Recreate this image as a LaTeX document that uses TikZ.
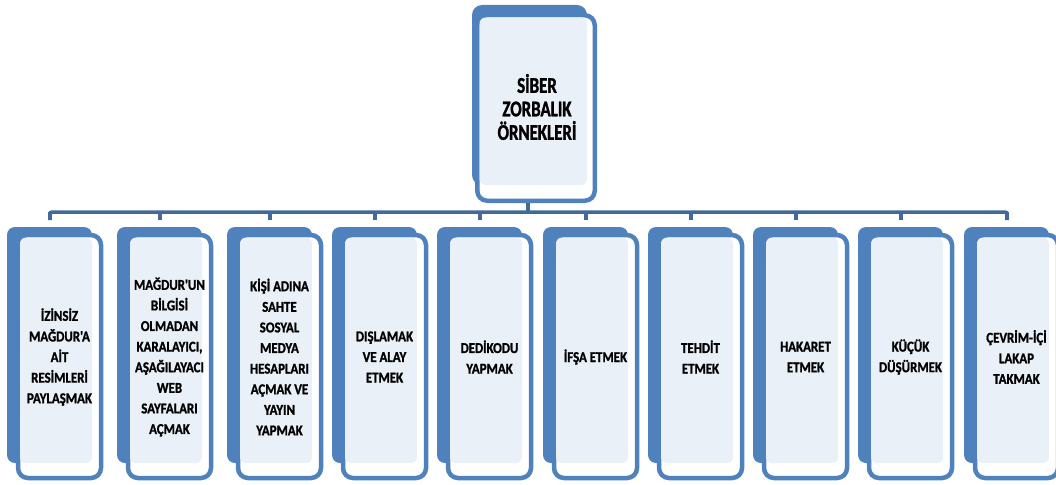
\documentclass[tikz,border=0pt]{standalone}
\usepackage{fontspec}
\setmainfont{Carlito}
\newfontfamily\kidfont[FakeStretch=0.86, FakeBold=1.2]{Carlito Bold}
\newfontfamily\headfont[FakeStretch=0.75, FakeBold=1.4]{Carlito Bold}
\definecolor{accent}{HTML}{4F81BD}
\definecolor{lightbg}{HTML}{EAF0F8}
\definecolor{connc}{HTML}{41699B}
\tikzset{
  backbox/.style={fill=accent, rounded corners=8pt},
  frontbox/.style={draw=accent, fill=white, line width=4.5pt, rounded corners=10pt},
  lightbox/.style={fill=lightbg, rounded corners=6pt},
  conn/.style={draw=connc, line width=3.5pt},
  kidtext/.style={align=center, inner sep=0pt, text=black, font=\kidfont\fontsize{15}{20.6}\selectfont},
  headtext/.style={align=center, inner sep=0pt, text=black, font=\headfont\fontsize{22.5}{23.5}\selectfont},
}
\newcommand\kidbox[3]{%
  \fill[backbox] (#1-43,227) rectangle (#1+42,463);
  \draw[frontbox] (#1-32,235) rectangle (#1+51,478);
  \fill[lightbox] (#1-30,237.5) rectangle (#1+42,463);
  \node[kidtext] (#2) at (#1+9.5,357) {#3};
  \coordinate (t#2) at (#1,212);
  \draw[conn] (t#2) -- ++(0,8);
}
\begin{document}
\begin{tikzpicture}[x=1pt,y=-1pt]
\useasboundingbox (0,0) rectangle (1056,484);
% top box
\fill[backbox, rounded corners=10pt] (472,5) rectangle (587,185);
\node[frontbox, minimum width=117.5pt, minimum height=185.5pt, inner sep=0pt] (topbox) at (536,108) {};
\fill[lightbox] (479.5,17.5) rectangle (587,185);
\node[headtext] (toptext) at (537,107) {SİBER\\ZORBALIK\\ÖRNEKLERİ};
% bus
\coordinate (hub) at (528,212);
\coordinate (busL) at (50,220);
\coordinate (busR) at (1007,220);
\draw[conn] (topbox.south -| hub) -- (hub);
\draw[conn, rounded corners=2pt] (busL) |- (hub) -| (busR);
% children
\kidbox{50}{k1}{İZİNSİZ\\MAĞDUR'A\\AİT\\RESİMLERİ\\PAYLAŞMAK}
\kidbox{160}{k2}{MAĞDUR'UN\\BİLGİSİ\\OLMADAN\\KARALAYICI,\\AŞAĞILAYACI\\WEB\\SAYFALARI\\AÇMAK}
\kidbox{270}{k3}{KİŞİ ADINA\\SAHTE\\SOSYAL\\MEDYA\\HESAPLARI\\AÇMAK VE\\YAYIN\\YAPMAK}
\kidbox{375}{k4}{DIŞLAMAK\\VE ALAY\\ETMEK}
\kidbox{480}{k5}{DEDİKODU\\YAPMAK}
\kidbox{586}{k6}{İFŞA ETMEK}
\kidbox{691}{k7}{TEHDİT\\ETMEK}
\kidbox{796}{k8}{HAKARET\\ETMEK}
\kidbox{901}{k9}{KÜÇÜK\\DÜŞÜRMEK}
\kidbox{1007}{k10}{ÇEVRİM-İÇİ\\LAKAP\\TAKMAK}
\end{tikzpicture}
\end{document}
